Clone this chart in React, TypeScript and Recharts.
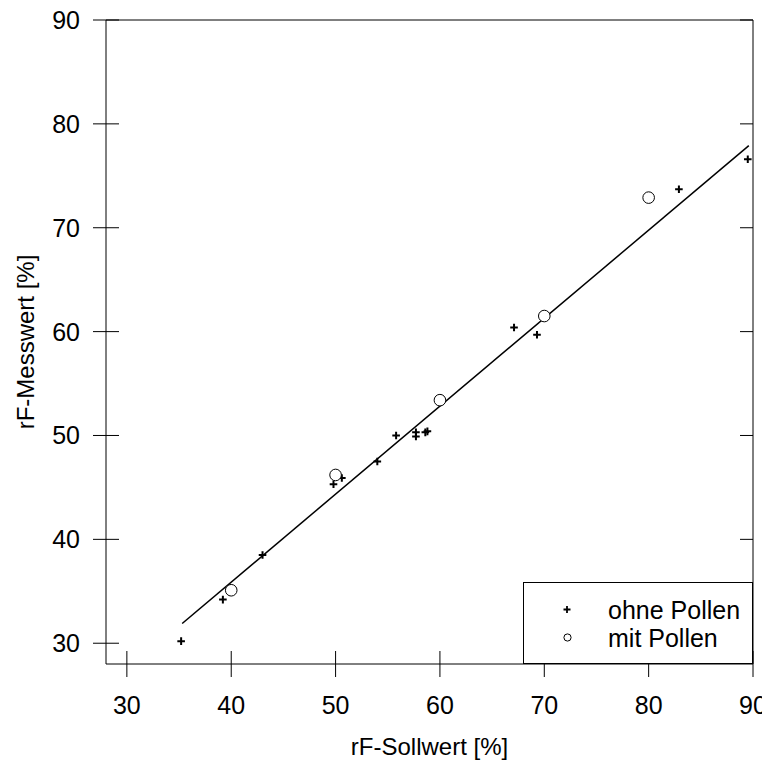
import { Legend, Scatter, ScatterChart, XAxis, YAxis } from "recharts";

const xTicks = [30, 40, 50, 60, 70, 80, 90];
const yTicks = [30, 40, 50, 60, 70, 80, 90];

// sensor readings without pollen load
const ohnePollen = [
  { x: 35.2, y: 30.2 },
  { x: 39.2, y: 34.2 },
  { x: 43.0, y: 38.5 },
  { x: 49.8, y: 45.3 },
  { x: 50.6, y: 45.9 },
  { x: 54.0, y: 47.5 },
  { x: 55.8, y: 50.0 },
  { x: 57.7, y: 50.3 },
  { x: 57.7, y: 49.9 },
  { x: 58.6, y: 50.3 },
  { x: 58.8, y: 50.4 },
  { x: 67.1, y: 60.4 },
  { x: 69.3, y: 59.7 },
  { x: 82.9, y: 73.7 },
  { x: 89.5, y: 76.6 },
];

// sensor readings with pollen load
const mitPollen = [
  { x: 40, y: 35.1 },
  { x: 50, y: 46.2 },
  { x: 60, y: 53.4 },
  { x: 70, y: 61.5 },
  { x: 80, y: 72.9 },
];

// linear fit over the measured range
const fitLine = [
  { x: 35.3, y: 31.9 },
  { x: 89.6, y: 77.9 },
];

const legendOrder = ["ohne Pollen", "mit Pollen"];

const FONT = "'Liberation Sans', Arial, Helvetica, sans-serif";
const INK = "#000";

const PlusShape = (props: any) => {
  const { cx, cy } = props;
  return (
    <path
      d={`M${cx - 3.8},${cy}h7.6M${cx},${cy - 3.8}v7.6`}
      stroke={INK}
      strokeWidth={2}
      fill="none"
    />
  );
};

const CircleShape = (props: any) => {
  const { cx, cy } = props;
  return <circle cx={cx} cy={cy} r={5.8} fill="#fff" stroke={INK} strokeWidth={1} />;
};

const NoShape = () => null;

const BottomTick = ({ x, y, payload }: any) => (
  <g>
    <line x1={x} x2={x} y1={y - 13} y2={y + 13} stroke={INK} />
    <text x={x} y={y + 41} dy="0.36em" textAnchor="middle" fontSize={25} fontFamily={FONT} fill={INK}>
      {payload.value}
    </text>
  </g>
);

const LeftTick = ({ x, y, payload }: any) => (
  <g>
    <line x1={x - 13} x2={x + 13} y1={y} y2={y} stroke={INK} />
    <text x={x - 26} y={y} dy="0.36em" textAnchor="end" fontSize={25} fontFamily={FONT} fill={INK}>
      {payload.value}
    </text>
  </g>
);

const TopTick = ({ x, y }: any) => <line x1={x} x2={x} y1={y} y2={y + 13} stroke={INK} />;

const RightTick = ({ x, y }: any) => <line x1={x - 13} x2={x} y1={y} y2={y} stroke={INK} />;

const XTitle = ({ viewBox }: any) => (
  <text
    x={viewBox.x + viewBox.width / 2}
    y={viewBox.y + 82}
    dy="0.36em"
    textAnchor="middle"
    fontSize={24}
    fontFamily={FONT}
    fill={INK}
  >
    rF-Sollwert [%]
  </text>
);

const YTitle = ({ viewBox }: any) => {
  const cx = viewBox.x + 17;
  const cy = viewBox.y + viewBox.height / 2;
  return (
    <text
      x={cx}
      y={cy}
      dy="0.36em"
      transform={`rotate(-90, ${cx}, ${cy})`}
      textAnchor="middle"
      fontSize={24}
      fontFamily={FONT}
      fill={INK}
    >
      rF-Messwert [%]
    </text>
  );
};

const LegendBox = (props: any) => {
  const items = (props.payload || [])
    .filter((p: any) => legendOrder.includes(p.value))
    .sort((a: any, b: any) => legendOrder.indexOf(a.value) - legendOrder.indexOf(b.value));
  return (
    <svg width={230} height={82} style={{ display: "block", background: "#fff" }}>
      <rect x={0.5} y={0.5} width={229} height={81} fill="#fff" stroke={INK} />
      {items.map((item: any, i: number) => {
        const cy = 27.5 + i * 28;
        return (
          <g key={item.value}>
            {item.value === "ohne Pollen" ? (
              <path d={`M${40.5},${cy}h7M${44},${cy - 3.5}v7`} stroke={INK} strokeWidth={1.8} />
            ) : (
              <circle cx={44.5} cy={cy} r={3.6} fill="#fff" stroke={INK} />
            )}
            <text x={85} y={cy} dy="0.36em" fontSize={25} fontFamily={FONT} fill={INK}>
              {item.value}
            </text>
          </g>
        );
      })}
    </svg>
  );
}

export default function App() {
  return (
    <div style={{ marginTop: -4 }}>
      <ScatterChart width={762} height={756} margin={{ top: 0, right: 0, bottom: 0, left: 0 }}>
        <XAxis
          type="number"
          dataKey="x"
          domain={[28, 90]}
          ticks={xTicks}
          interval={0}
          height={96}
          tickSize={0}
          tickMargin={0}
          tickLine={false}
          axisLine={{ stroke: INK }}
          tick={BottomTick}
          label={{ content: XTitle }}
          allowDataOverflow
        />
        <XAxis
          xAxisId="top"
          orientation="top"
          type="number"
          domain={[28, 90]}
          ticks={xTicks}
          interval={0}
          height={16}
          tickSize={0}
          tickMargin={0}
          tickLine={false}
          axisLine={{ stroke: INK }}
          tick={TopTick}
          allowDataOverflow
        />
        <YAxis
          type="number"
          dataKey="y"
          domain={[28, 90]}
          ticks={yTicks}
          interval={0}
          width={98}
          tickSize={0}
          tickMargin={0}
          tickLine={false}
          axisLine={{ stroke: INK }}
          tick={LeftTick}
          label={{ content: YTitle }}
          allowDataOverflow
        />
        <YAxis
          yAxisId="right"
          orientation="right"
          type="number"
          domain={[28, 90]}
          ticks={yTicks}
          interval={0}
          width={17}
          tickSize={0}
          tickMargin={0}
          tickLine={false}
          axisLine={{ stroke: INK }}
          tick={RightTick}
          allowDataOverflow
        />
        <Scatter
          name="fit"
          data={fitLine}
          line={{ stroke: INK, strokeWidth: 1.5 }}
          shape={NoShape}
          legendType="none"
          isAnimationActive={false}
        />
        <Scatter name="ohne Pollen" data={ohnePollen} shape={PlusShape} isAnimationActive={false} />
        <Scatter name="mit Pollen" data={mitPollen} shape={CircleShape} isAnimationActive={false} />
        <Legend
          layout="vertical"
          align="center"
          verticalAlign="middle"
          content={LegendBox}
          wrapperStyle={{ left: 515, top: 578, width: 230, height: 82, right: "auto", bottom: "auto" }}
        />
      </ScatterChart>
    </div>
  );
}
